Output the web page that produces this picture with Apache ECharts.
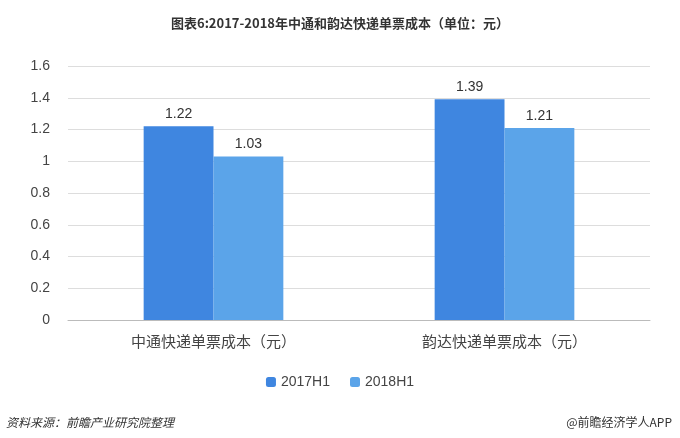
<!DOCTYPE html><html><head><meta charset="utf-8">
<script src="https://cdn.jsdelivr.net/npm/echarts@6/dist/echarts.min.js"></script>
<style>body{margin:0}#c{width:680px;height:438px}</style></head><body><div id="c"></div>
<script>
const categories=['中通快递单票成本（元）','韵达快递单票成本（元）'];
const s2017=[1.22,1.39];
const s2018=[1.03,1.21];
const seriesNames=['2017H1','2018H1'];
const chart=echarts.init(document.getElementById('c'));
const lab={show:true,position:'top',color:'#333',fontSize:14,fontFamily:'Liberation Sans, Arial'};
chart.setOption({
 title:{text:'图表6:2017-2018年中通和韵达快递单票成本（单位：元）',left:'center',top:12,textStyle:{fontSize:13,fontWeight:'bold',color:'#333',fontFamily:'Noto Sans CJK SC'}},
 legend:{bottom:44,itemWidth:10,itemHeight:10,itemGap:20,textStyle:{fontSize:14,color:'#444'},data:seriesNames},
 grid:{left:68,right:30,top:66,bottom:118},
 xAxis:{type:'category',data:categories,axisTick:{show:false},axisLine:{lineStyle:{color:'#bbb'}},axisLabel:{fontSize:15,color:'#444',margin:14,fontFamily:'Noto Sans CJK SC'}},
 yAxis:{type:'value',min:0,max:1.6,interval:0.2,axisLine:{show:false},axisTick:{show:false},splitLine:{lineStyle:{color:'#ddd'}},axisLabel:{fontSize:14,color:'#444',margin:18,formatter:v=>String(+v.toFixed(1))}},
 series:[
  {name:seriesNames[0],type:'bar',data:s2017,barGap:'0%',barCategoryGap:'52%',itemStyle:{color:'#3f86e0'},label:lab},
  {name:seriesNames[1],type:'bar',data:s2018,itemStyle:{color:'#5ba4e9'},label:lab}
 ],
 graphic:[
  {type:'text',left:6,bottom:10,style:{text:'资料来源：前瞻产业研究院整理',fontSize:12,fontStyle:'italic',fill:'#333',fontFamily:'Noto Sans CJK SC'}},
  {type:'text',right:8,bottom:10,style:{text:'@前瞻经济学人APP',fontSize:12,fill:'#333',fontFamily:'Noto Sans CJK SC'}}
 ]
});
</script></body></html>
